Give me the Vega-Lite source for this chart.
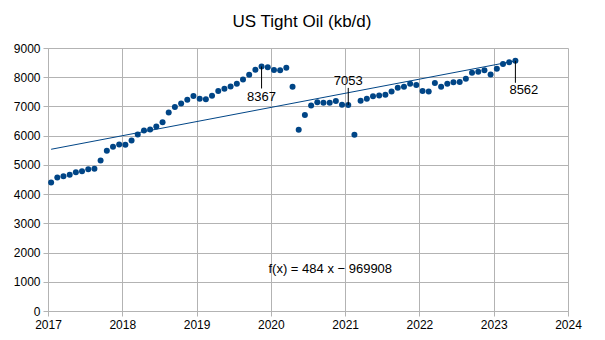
{
  "$schema": "https://vega.github.io/schema/vega-lite/v6.json",
  "width": 520,
  "height": 263,
  "autosize": "none",
  "padding": {"left": 48, "top": 48, "right": 37, "bottom": 29},
  "background": "white",
  "config": {
    "font": "Liberation Sans",
    "view": {"stroke": null},
    "axis": {
      "gridColor": "#b3b3b3",
      "domainColor": "#b3b3b3",
      "tickColor": "#b3b3b3",
      "tickSize": 5,
      "labelFont": "Liberation Sans",
      "labelFontSize": 12,
      "labelColor": "#000000",
      "labelFlush": false,
      "labelOverlap": false,
      "title": null
    }
  },
  "title": {
    "text": "US Tight Oil (kb/d)",
    "fontSize": 17,
    "fontWeight": "normal",
    "font": "Liberation Sans",
    "color": "#000000",
    "offset": 11,
    "dx": -6
  },
  "datasets": {
    "oil": [
      {"year": 2017.042, "kbd": 4400}, {"year": 2017.125, "kbd": 4570}, {"year": 2017.208, "kbd": 4615}, {"year": 2017.292, "kbd": 4660},
      {"year": 2017.375, "kbd": 4750}, {"year": 2017.458, "kbd": 4785}, {"year": 2017.542, "kbd": 4855}, {"year": 2017.625, "kbd": 4865},
      {"year": 2017.708, "kbd": 5150}, {"year": 2017.792, "kbd": 5480}, {"year": 2017.875, "kbd": 5620}, {"year": 2017.958, "kbd": 5700},
      {"year": 2018.042, "kbd": 5690}, {"year": 2018.125, "kbd": 5835}, {"year": 2018.208, "kbd": 6040}, {"year": 2018.292, "kbd": 6180},
      {"year": 2018.375, "kbd": 6215}, {"year": 2018.458, "kbd": 6315}, {"year": 2018.542, "kbd": 6455}, {"year": 2018.625, "kbd": 6795},
      {"year": 2018.708, "kbd": 6980}, {"year": 2018.792, "kbd": 7105}, {"year": 2018.875, "kbd": 7230}, {"year": 2018.958, "kbd": 7355},
      {"year": 2019.042, "kbd": 7265}, {"year": 2019.125, "kbd": 7250}, {"year": 2019.208, "kbd": 7365}, {"year": 2019.292, "kbd": 7525},
      {"year": 2019.375, "kbd": 7605}, {"year": 2019.458, "kbd": 7685}, {"year": 2019.542, "kbd": 7775}, {"year": 2019.625, "kbd": 7925},
      {"year": 2019.708, "kbd": 8085}, {"year": 2019.792, "kbd": 8255}, {"year": 2019.875, "kbd": 8367}, {"year": 2019.958, "kbd": 8345},
      {"year": 2020.042, "kbd": 8245}, {"year": 2020.125, "kbd": 8235}, {"year": 2020.208, "kbd": 8325}, {"year": 2020.292, "kbd": 7675},
      {"year": 2020.375, "kbd": 6200}, {"year": 2020.458, "kbd": 6705}, {"year": 2020.542, "kbd": 7035}, {"year": 2020.625, "kbd": 7140},
      {"year": 2020.708, "kbd": 7125}, {"year": 2020.792, "kbd": 7125}, {"year": 2020.875, "kbd": 7185}, {"year": 2020.958, "kbd": 7060},
      {"year": 2021.042, "kbd": 7053}, {"year": 2021.125, "kbd": 6030}, {"year": 2021.208, "kbd": 7195}, {"year": 2021.292, "kbd": 7265},
      {"year": 2021.375, "kbd": 7345}, {"year": 2021.458, "kbd": 7375}, {"year": 2021.542, "kbd": 7400}, {"year": 2021.625, "kbd": 7515},
      {"year": 2021.708, "kbd": 7640}, {"year": 2021.792, "kbd": 7675}, {"year": 2021.875, "kbd": 7775}, {"year": 2021.958, "kbd": 7730},
      {"year": 2022.042, "kbd": 7525}, {"year": 2022.125, "kbd": 7515}, {"year": 2022.208, "kbd": 7800}, {"year": 2022.292, "kbd": 7675},
      {"year": 2022.375, "kbd": 7775}, {"year": 2022.458, "kbd": 7825}, {"year": 2022.542, "kbd": 7835}, {"year": 2022.625, "kbd": 7950},
      {"year": 2022.708, "kbd": 8155}, {"year": 2022.792, "kbd": 8190}, {"year": 2022.875, "kbd": 8235}, {"year": 2022.958, "kbd": 8095},
      {"year": 2023.042, "kbd": 8290}, {"year": 2023.125, "kbd": 8450}, {"year": 2023.208, "kbd": 8510}, {"year": 2023.292, "kbd": 8562}
    ],
    "labels": [
      {"year": 2019.875, "kbd": 8367, "label": "8367", "side": "below"},
      {"year": 2021.042, "kbd": 7053, "label": "7053", "side": "above"},
      {"year": 2023.292, "kbd": 8562, "label": "8562", "side": "below"}
    ],
    "equation": [
      {"year": 2020.80, "kbd": 1450, "label": "f(x) = 484 x − 969908"}
    ]
  },
  "encoding": {
    "x": {
      "field": "year", "type": "quantitative",
      "scale": {"domain": [2017, 2024], "nice": false, "zero": false},
      "axis": {"values": [2017, 2018, 2019, 2020, 2021, 2022, 2023, 2024], "format": "d", "labelPadding": 3}
    },
    "y": {
      "field": "kbd", "type": "quantitative",
      "scale": {"domain": [0, 9000], "nice": false},
      "axis": {"values": [0, 1000, 2000, 3000, 4000, 5000, 6000, 7000, 8000, 9000], "format": "d", "labelPadding": 3}
    }
  },
  "layer": [
    {
      "data": {"name": "oil"},
      "transform": [{"regression": "kbd", "on": "year", "method": "linear"}],
      "mark": {"type": "line", "color": "#004586", "strokeWidth": 1}
    },
    {
      "data": {"name": "oil"},
      "mark": {"type": "circle", "color": "#004586", "opacity": 1, "size": 36}
    },
    {
      "data": {"name": "labels"},
      "transform": [{"filter": "datum.side === 'below'"}],
      "mark": {"type": "rule", "color": "#000000", "strokeWidth": 1, "y2Offset": 22},
      "encoding": {"y2": {"field": "kbd"}}
    },
    {
      "data": {"name": "labels"},
      "transform": [{"filter": "datum.label === '8367'"}],
      "mark": {"type": "text", "fontSize": 13, "dy": 31, "baseline": "middle", "color": "#000000"},
      "encoding": {"text": {"field": "label"}}
    },
    {
      "data": {"name": "labels"},
      "transform": [{"filter": "datum.label === '8562'"}],
      "mark": {"type": "text", "fontSize": 13, "dy": 29, "dx": -6, "align": "left", "baseline": "middle", "color": "#000000"},
      "encoding": {"text": {"field": "label"}}
    },
    {
      "data": {"name": "labels"},
      "transform": [{"filter": "datum.side === 'above'"}],
      "layer": [
        {"mark": {"type": "rule", "color": "#000000", "strokeWidth": 1, "y2Offset": -17}, "encoding": {"y2": {"field": "kbd"}}},
        {"mark": {"type": "text", "fontSize": 13, "dy": -24, "baseline": "middle", "color": "#000000"}, "encoding": {"text": {"field": "label"}}}
      ]
    },
    {
      "data": {"name": "equation"},
      "mark": {"type": "text", "fontSize": 13, "baseline": "middle", "color": "#000000"},
      "encoding": {"text": {"field": "label"}}
    }
  ]
}
